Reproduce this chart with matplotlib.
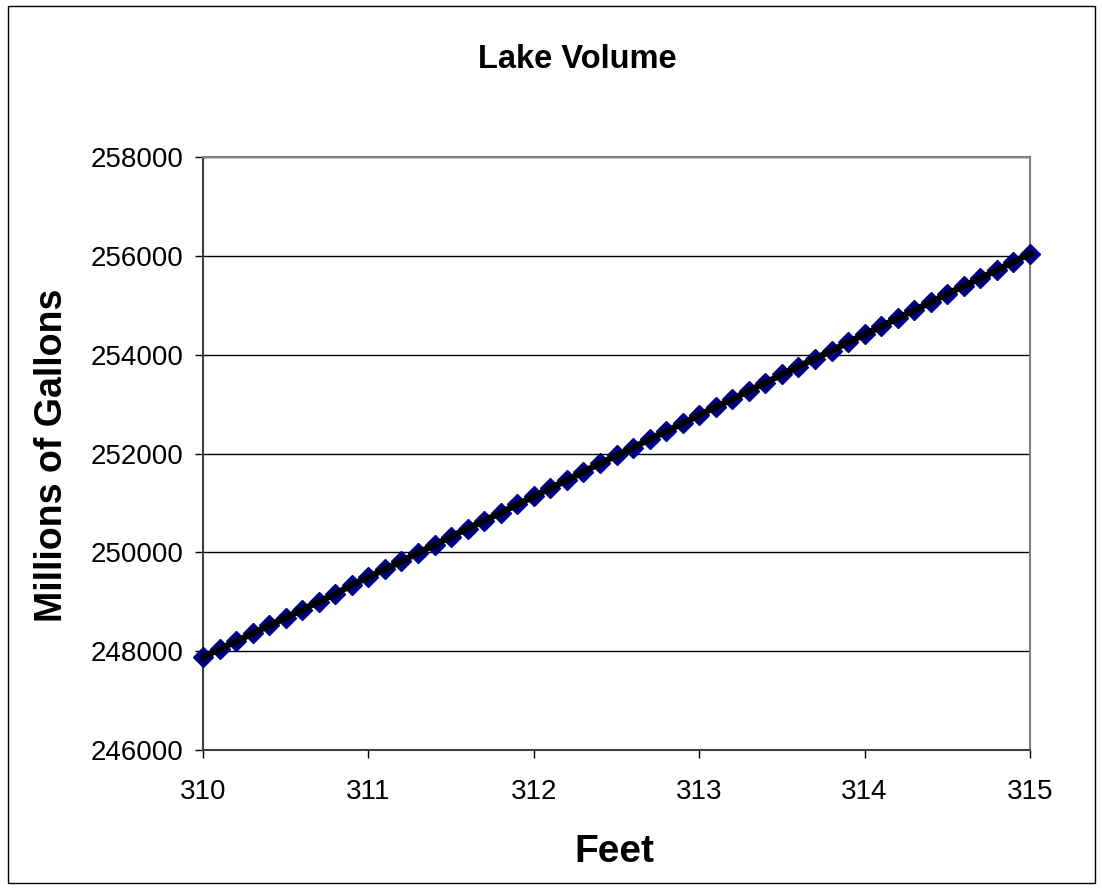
import matplotlib
matplotlib.use("Agg")
import matplotlib.pyplot as plt
from matplotlib.patches import Rectangle

plt.rcParams['font.family'] = ['Liberation Sans', 'DejaVu Sans']

feet = [310.0, 310.1, 310.2, 310.3, 310.4, 310.5, 310.6, 310.7, 310.8, 310.9,
        311.0, 311.1, 311.2, 311.3, 311.4, 311.5, 311.6, 311.7, 311.8, 311.9,
        312.0, 312.1, 312.2, 312.3, 312.4, 312.5, 312.6, 312.7, 312.8, 312.9,
        313.0, 313.1, 313.2, 313.3, 313.4, 313.5, 313.6, 313.7, 313.8, 313.9,
        314.0, 314.1, 314.2, 314.3, 314.4, 314.5, 314.6, 314.7, 314.8, 314.9,
        315.0]
volume = [247880, 248040, 248200, 248360, 248520, 248680, 248840, 249000, 249160, 249340,
          249500, 249660, 249820, 249990, 250150, 250320, 250480, 250640, 250800, 250970,
          251130, 251300, 251460, 251630, 251800, 251960, 252120, 252290, 252450, 252610,
          252780, 252940, 253100, 253270, 253430, 253600, 253760, 253920, 254080, 254250,
          254410, 254570, 254740, 254900, 255060, 255230, 255390, 255550, 255710, 255880,
          256040]
x_ticks = [310, 311, 312, 313, 314, 315]
y_ticks = [246000, 248000, 250000, 252000, 254000, 256000, 258000]

W, H = 1102, 889
fig = plt.figure(figsize=(W / 100, H / 100), dpi=100)
fig.patch.set_facecolor('white')

# outer chart border
fig.patches.append(Rectangle((8 / W, 1 - 883 / H), (1095 - 8) / W, (883 - 6) / H,
                             transform=fig.transFigure, fill=False,
                             edgecolor='black', linewidth=1.0))

ax = fig.add_axes([203 / W, 1 - 750 / H, (1030 - 203) / W, (750 - 157) / H])
ax.set_xlim(310, 315)
ax.set_ylim(246000, 258000)
ax.set_xticks(x_ticks)
ax.set_yticks(y_ticks)
ax.set_xticklabels([str(v) for v in x_ticks], fontsize=20)
ax.set_yticklabels([str(v) for v in y_ticks], fontsize=20)
ax.tick_params(axis='x', direction='out', length=6, width=1, pad=15, colors='black')
ax.tick_params(axis='y', direction='out', length=6, width=1, pad=8, colors='black')

ax.yaxis.grid(True, color='black', linewidth=1.0)
ax.set_axisbelow(True)

for s in ['top', 'right']:
    ax.spines[s].set_color('#808080')
    ax.spines[s].set_linewidth(1.5)
for s in ['left', 'bottom']:
    ax.spines[s].set_color('#404040')
    ax.spines[s].set_linewidth(1.5)

ax.plot(feet, volume, linestyle='none', marker='D', markersize=10,
        markerfacecolor='#000080', markeredgecolor='#000080', zorder=3, clip_on=False)
ax.plot(feet, volume, color='black', linewidth=4.5, zorder=4, clip_on=False)

fig.text(577 / W, 1 - 60 / H, 'Lake Volume', fontsize=23.5, fontweight='bold',
         ha='center', va='center')
fig.text(614 / W, 1 - 852 / H, 'Feet', fontsize=28, fontweight='bold',
         ha='center', va='center')
fig.text(52 / W, 1 - 455 / H, 'Millions of Gallons', fontsize=27, fontweight='bold',
         ha='center', va='center', rotation=90)

fig.savefig('out.png', dpi=100)
